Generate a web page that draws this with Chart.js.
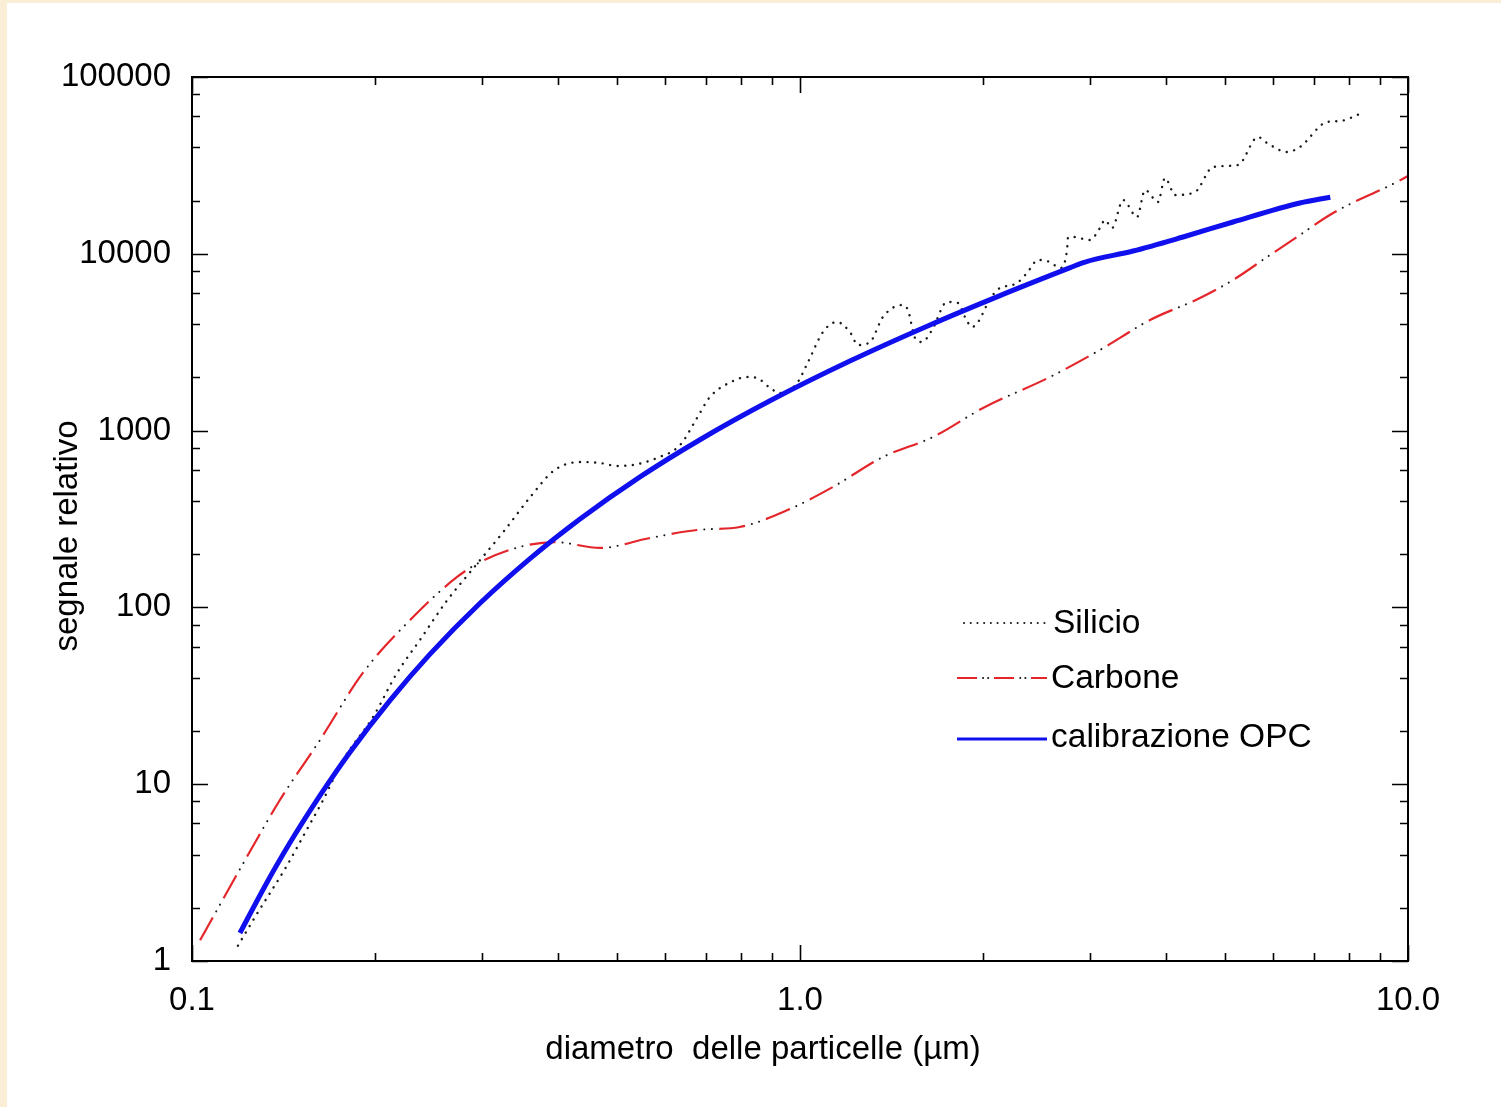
<!DOCTYPE html>
<html>
<head>
<meta charset="utf-8">
<script src="https://cdn.jsdelivr.net/npm/chart.js@4.4.0/dist/chart.umd.min.js"></script>
<style>
  html, body { margin: 0; padding: 0; background: #fff; }
  #wrap { width: 1501px; height: 1107px; }
</style>
</head>
<body>
<div id="wrap"><canvas id="chart" width="1501" height="1107"></canvas></div>
<script>
// diametro (µm) -> segnale relativo
const silicioD = [0.119, 0.1279, 0.1428, 0.1534, 0.1643, 0.1772, 0.1985, 0.2174, 0.237, 0.263, 0.287, 0.327, 0.360, 0.395, 0.435,
  0.469, 0.500, 0.531, 0.582, 0.635, 0.677, 0.711, 0.776, 0.818, 0.850, 0.893, 0.927, 0.989, 1.031, 1.091, 1.150, 1.208, 1.246,
  1.304, 1.369, 1.472, 1.505, 1.546, 1.587, 1.649, 1.745, 1.820, 1.868, 1.918, 1.963, 2.038, 2.109, 2.275, 2.362, 2.463, 2.577,
  2.677, 2.749, 2.759, 2.812, 2.999, 3.114, 3.173, 3.260, 3.399, 3.584, 3.694, 3.880, 3.984, 4.139, 4.464, 4.778, 5.253, 5.666,
  5.865, 6.324, 6.64, 7.36, 7.73, 8.40];
const silicioV = [1.22, 1.85, 3.40, 5.30, 8.14, 13.7, 24.0, 42.6, 65.4, 110, 159, 274, 421, 599, 664,
  656, 631, 639, 700, 829, 1178, 1549, 1908, 2010, 1984, 1742, 1632, 1859, 2444, 3612, 4115, 3612, 3050,
  3171, 4390, 5133, 4810, 3340, 3171, 3707, 5340, 5269, 4390, 3855, 4115, 5269, 6240, 6838, 7787, 9226, 8986,
  8313, 10510, 12290, 12450, 11970, 13990, 15530, 13990, 20150, 16150, 22950, 19640, 26840, 21510, 22360, 30970, 31780, 45770,
  42340, 37650, 40180, 55670, 56360, 62560];

const carboneD = [0.1031, 0.1231, 0.1395, 0.1624, 0.191, 0.231, 0.2729, 0.2976, 0.3463, 0.3954, 0.469, 0.5666, 0.677, 0.796,
  0.938, 1.133, 1.369, 1.655, 2.0, 2.577, 3.114, 3.765, 4.548, 5.155, 5.865, 6.64, 7.53, 9.59, 10.0];
const carboneV = [1.31, 3.88, 8.14, 17.8, 42.6, 88.2, 148.6, 180, 220, 234, 217, 247, 274, 285,
  346, 480, 709, 920, 1342, 2010, 2857, 4222, 5623, 7112, 9590, 12770, 17010, 25480, 27550];

const opcD = [0.1199, 0.1318, 0.1449, 0.1624, 0.1819, 0.2117, 0.2463, 0.2976, 0.3597, 0.4347, 0.5456, 0.6846, 0.8926,
  1.208, 1.636, 2.133, 2.677, 2.943, 3.530, 4.266, 5.155, 6.64, 7.45];
const opcV = [1.44, 2.65, 4.66, 8.64, 15.17, 29.8, 54.4, 105.5, 188.8, 316, 547, 888, 1474,
  2473, 3957, 5801, 7921, 8985, 10370, 12450, 15130, 19380, 20900];

// tacche degli assi
const xMajor = [0.1, 1, 10];
const xLabels = ['0.1', '1.0', '10.0'];
const xMinor = [0.2, 0.3, 0.4, 0.5, 0.6, 0.7, 0.8, 0.9, 2, 3, 4, 5, 6, 7, 8, 9];
const yMajor = [1, 10, 100, 1000, 10000, 100000];
const yLabels = ['1', '10', '100', '1000', '10000', '100000'];
const yMinor = [2, 4, 6, 8, 20, 40, 60, 80, 200, 400, 600, 800, 2000, 4000, 6000, 8000, 20000, 40000, 60000, 80000];

const FONT = '"Liberation Sans", Arial, sans-serif';
const RED = '#e4262b';
const BLUE = '#1010ee';
const DOTS = '#1a1a1a';

const toXY = (d, v) => d.map((x, i) => ({ x: x, y: v[i] }));

// riquadro, tacche interne, titoli e legenda
const framePlugin = {
    id: 'frame',
    beforeDraw(chart) {
        const ctx = chart.ctx;
        ctx.save();
        ctx.fillStyle = '#fff';
        ctx.fillRect(0, 0, chart.width, chart.height);
        ctx.fillStyle = '#fbeed7';
        ctx.fillRect(0, 0, 7, chart.height);
        ctx.fillRect(0, 0, chart.width, 3);
        ctx.restore();
    },
    afterDraw(chart) {
        const ctx = chart.ctx;
        const a = chart.chartArea;
        const xs = chart.scales.x, ys = chart.scales.y;
        ctx.save();
        ctx.strokeStyle = '#000';
        ctx.lineWidth = 2;
        ctx.strokeRect(a.left, a.top, a.right - a.left, a.bottom - a.top);

        ctx.lineWidth = 1.6;
        ctx.beginPath();
        const xt = (vals, len) => vals.forEach(v => {
            const p = Math.round(xs.getPixelForValue(v)) + 0.5;
            ctx.moveTo(p, a.bottom); ctx.lineTo(p, a.bottom - len);
            ctx.moveTo(p, a.top); ctx.lineTo(p, a.top + len);
        });
        const yt = (vals, len) => vals.forEach(v => {
            const p = Math.round(ys.getPixelForValue(v)) + 0.5;
            ctx.moveTo(a.left, p); ctx.lineTo(a.left + len, p);
            ctx.moveTo(a.right, p); ctx.lineTo(a.right - len, p);
        });
        xt(xMajor, 16); xt(xMinor, 8);
        yt(yMajor, 16); yt(yMinor, 8);
        ctx.stroke();

        // titoli degli assi
        ctx.fillStyle = '#000';
        ctx.font = '33px ' + FONT;
        ctx.textAlign = 'center';
        ctx.textBaseline = 'middle';
        ctx.fillText('diametro  delle particelle (µm)', 763, 1050);
        ctx.save();
        ctx.translate(68, 536);
        ctx.rotate(-Math.PI / 2);
        ctx.fillText('segnale relativo', 0, 0);
        ctx.restore();

        // legenda
        ctx.font = '33.5px ' + FONT;
        ctx.textAlign = 'left';
        const line = (x1, x2, y, color, width, dash, offset, cap) => {
            ctx.save();
            ctx.strokeStyle = color;
            ctx.lineWidth = width;
            ctx.setLineDash(dash);
            ctx.lineDashOffset = offset || 0;
            ctx.lineCap = cap || 'butt';
            ctx.beginPath();
            ctx.moveTo(x1, y); ctx.lineTo(x2, y);
            ctx.stroke();
            ctx.restore();
        };
        line(964, 1045, 623, DOTS, 2, [0.1, 6.6], 0, 'round');
        ctx.fillText('Silicio', 1053, 624);
        line(957, 1047, 678, RED, 2, [20, 17]);
        line(957, 1047, 678, DOTS, 2, [0.1, 5, 0.1, 32], -26, 'round');
        ctx.fillText('Carbone', 1051, 679);
        line(957, 1047, 739, BLUE, 3, []);
        ctx.fillText('calibrazione OPC', 1051, 738);
        ctx.restore();
    }
};

new Chart(document.getElementById('chart').getContext('2d'), {
    type: 'line',
    data: {
        datasets: [{
            label: 'calibrazione OPC',
            data: toXY(opcD, opcV),
            borderColor: BLUE,
            borderWidth: 5,
            order: 0
        }, {
            label: 'Silicio',
            data: toXY(silicioD, silicioV),
            borderColor: DOTS,
            borderWidth: 2.4,
            borderDash: [0.1, 7.5],
            borderCapStyle: 'round',
            order: 1
        }, {
            label: 'Carbone',
            data: toXY(carboneD, carboneV),
            borderColor: RED,
            borderWidth: 2.2,
            borderDash: [26, 22],
            order: 2
        }, {
            label: 'Carbone punti',
            data: toXY(carboneD, carboneV),
            borderColor: DOTS,
            borderWidth: 2,
            borderDash: [0.1, 7.5, 0.1, 40.3],
            borderDashOffset: -33,
            borderCapStyle: 'round',
            order: 3
        }]
    },
    options: {
        responsive: false,
        animation: false,
        elements: {
            point: { radius: 0 },
            line: { cubicInterpolationMode: 'monotone', fill: false }
        },
        layout: { padding: { left: 0, top: 77, right: 93, bottom: 0 } },
        plugins: {
            legend: { display: false },
            tooltip: { enabled: false }
        },
        scales: {
            x: {
                type: 'logarithmic',
                min: 0.1,
                max: 10,
                afterBuildTicks: s => { s.ticks = xMajor.map(v => ({ value: v })); },
                afterFit: s => { s.height = 146; },
                grid: { display: false, drawTicks: false },
                border: { display: false },
                ticks: {
                    autoSkip: false,
                    maxRotation: 0,
                    padding: 20,
                    color: '#000',
                    font: { family: FONT, size: 33 },
                    callback: (v, i) => xLabels[i]
                }
            },
            y: {
                type: 'logarithmic',
                min: 1,
                max: 100000,
                afterBuildTicks: s => { s.ticks = yMajor.map(v => ({ value: v })); },
                afterFit: s => { s.width = 192; },
                grid: { display: false, drawTicks: false },
                border: { display: false },
                ticks: {
                    autoSkip: false,
                    padding: 21,
                    color: '#000',
                    font: { family: FONT, size: 33 },
                    callback: (v, i) => yLabels[i]
                }
            }
        }
    },
    plugins: [framePlugin]
});
</script>
</body>
</html>
